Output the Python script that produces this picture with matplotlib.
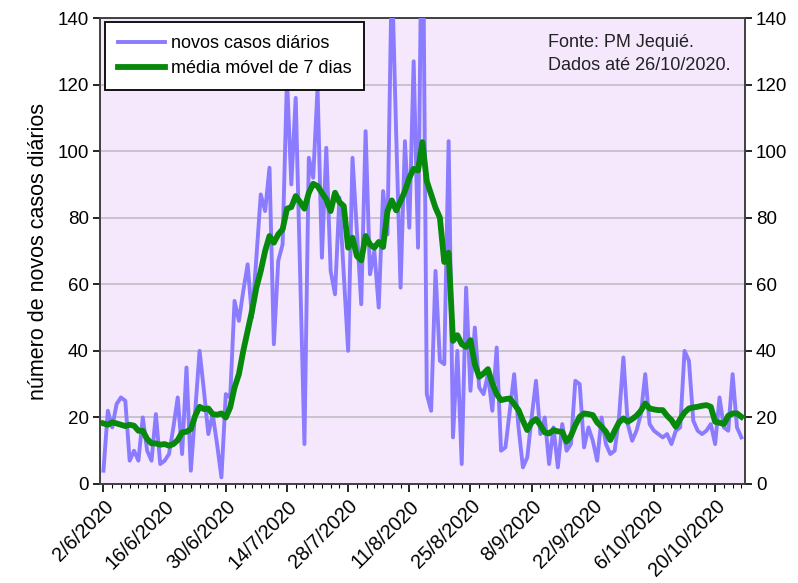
import matplotlib
matplotlib.use('Agg')
import matplotlib.pyplot as plt
import matplotlib.dates as mdates
import pandas as pd

plt.rcParams['font.family'] = ['Liberation Sans', 'DejaVu Sans']

start_date = '2020-06-02'

novos_casos = [
    4, 22, 17, 24, 26, 25, 7, 10, 7, 20,
    10, 7, 21, 6, 7, 9, 17, 26, 9, 35,
    4, 22, 40, 28, 15, 21, 12, 2, 27, 26,
    55, 49, 58, 66, 50, 68, 87, 82, 95, 42,
    67, 72, 122, 90, 116, 64, 12, 98, 92, 119,
    68, 101, 64, 57, 86, 63, 40, 98, 76, 54,
    106, 63, 70, 53, 88, 75, 155, 105, 59, 103,
    77, 127, 71, 190, 27, 22, 64, 37, 36, 103,
    14, 40, 6, 59, 28, 47, 29, 27, 33, 22,
    41, 10, 11, 22, 33, 17, 5, 8, 20, 31,
    15, 20, 6, 17, 5, 18, 10, 12, 31, 30,
    11, 17, 13, 7, 20, 12, 9, 10, 20, 38,
    18, 13, 16, 21, 33, 18, 16, 15, 14, 15,
    12, 16, 17, 40, 37, 19, 16, 15, 16, 18,
    12, 26, 17, 16, 33, 17, 14,
]

media_movel = [
    18.2, 17.8, 18.5, 18.2, 17.8, 17.4, 17.8, 17.5, 16.0, 16.0,
    13.5, 12.2, 12.2, 11.8, 12.0, 11.5, 12.0, 13.2, 15.5, 15.7,
    16.5, 20.5, 23.2, 22.5, 22.7, 21.0, 20.8, 21.2, 20.0, 23.0,
    29.0, 33.0, 40.0, 46.0, 52.0, 59.0, 64.0, 70.0, 74.5, 72.5,
    75.0, 76.5, 82.7, 83.2, 86.5, 84.7, 82.7, 87.5, 90.2, 89.5,
    87.5, 85.5, 82.0, 87.5, 84.7, 83.5, 71.0, 74.0, 68.5, 67.2,
    74.5, 72.0, 71.0, 72.7, 71.2, 82.0, 85.2, 82.2, 85.0, 88.0,
    92.0, 94.7, 94.2, 102.7, 91.0, 87.0, 83.0, 80.0, 66.7, 69.5,
    43.0, 44.7, 42.0, 41.2, 43.2, 36.0, 32.2, 33.2, 34.5, 30.2,
    27.0, 25.2, 25.5, 25.7, 24.0, 22.2, 19.0, 16.2, 18.5, 19.5,
    17.7, 15.5, 15.2, 16.2, 15.8, 15.7, 12.7, 14.5, 17.7, 20.2,
    21.2, 21.0, 20.7, 18.5, 17.2, 15.7, 13.2, 16.0, 18.5, 19.7,
    18.7, 19.5, 20.5, 22.0, 24.2, 22.7, 22.4, 22.2, 22.2, 20.5,
    19.2, 17.2, 19.5, 21.5, 22.7, 23.0, 23.2, 23.5, 23.7, 23.2,
    18.7, 18.4, 18.0, 20.5, 21.2, 21.2, 20.2,
]

tick_dates = ['2020-06-02', '2020-06-16', '2020-06-30', '2020-07-14',
              '2020-07-28', '2020-08-11', '2020-08-25', '2020-09-08',
              '2020-09-22', '2020-10-06', '2020-10-20']
tick_labels = ['2/6/2020', '16/6/2020', '30/6/2020', '14/7/2020',
               '28/7/2020', '11/8/2020', '25/8/2020', '8/9/2020',
               '22/9/2020', '6/10/2020', '20/10/2020']
y_ticks = [0, 20, 40, 60, 80, 100, 120, 140]

label_daily = 'novos casos diários'
label_avg = 'média móvel de 7 dias'
ylabel = 'número de novos casos diários'
source_text = 'Fonte: PM Jequié.\nDados até 26/10/2020.'

dates = pd.date_range(start_date, periods=len(novos_casos))

fig = plt.figure(figsize=(7.98, 5.83), dpi=100)
ax = fig.add_axes([100 / 798, 1 - 484 / 583, 645 / 798, 466 / 583])
ax.set_facecolor('#F5E8FD')

ax.plot(dates, novos_casos, color='#8A7BFF', lw=2.8, label=label_daily,
        solid_joinstyle='round', zorder=3)
ax.plot(dates, media_movel, color='#07890B', lw=4.2, label=label_avg,
        solid_joinstyle='round', zorder=4)

ax.set_ylim(0, 140)
ax.set_xlim(dates[0] - pd.Timedelta(hours=19),
            dates[-1] + pd.Timedelta(hours=20))

ax.set_yticks(y_ticks)
ax.yaxis.grid(True, color='#C8C2CC', lw=1.4)
ax.set_axisbelow(True)

ax.set_xticks(pd.to_datetime(tick_dates))
ax.set_xticklabels(tick_labels, rotation=45, ha='right',
                   rotation_mode='anchor', fontsize=14.3)
ax.xaxis.set_minor_locator(mdates.DayLocator(interval=2))

ax.tick_params(axis='y', which='both', left=True, right=True,
               labelleft=True, labelright=True, direction='out',
               length=5, width=1.2, labelsize=13.5, pad=3)
ax.tick_params(axis='x', which='major', direction='out', length=6,
               width=1.2, pad=3)
ax.tick_params(axis='x', which='minor', direction='out', length=3,
               width=0.8)

for s in ax.spines.values():
    s.set_color('#404040')
    s.set_linewidth(1.4)

ax.set_ylabel(ylabel, fontsize=15.5, labelpad=6)

leg = ax.legend(loc='upper left', bbox_to_anchor=(0.008, 0.991),
                borderaxespad=0, fontsize=13, frameon=True, fancybox=False,
                edgecolor='black', framealpha=1, handlelength=2.6,
                handletextpad=0.35, borderpad=0.7, labelspacing=0.45)
leg.get_frame().set_linewidth(1.3)

ax.text(0.695, 0.965, source_text, transform=ax.transAxes, ha='left',
        va='top', fontsize=13, linespacing=1.4, color='#222222')

fig.savefig('out.png', dpi=100, facecolor='white')
